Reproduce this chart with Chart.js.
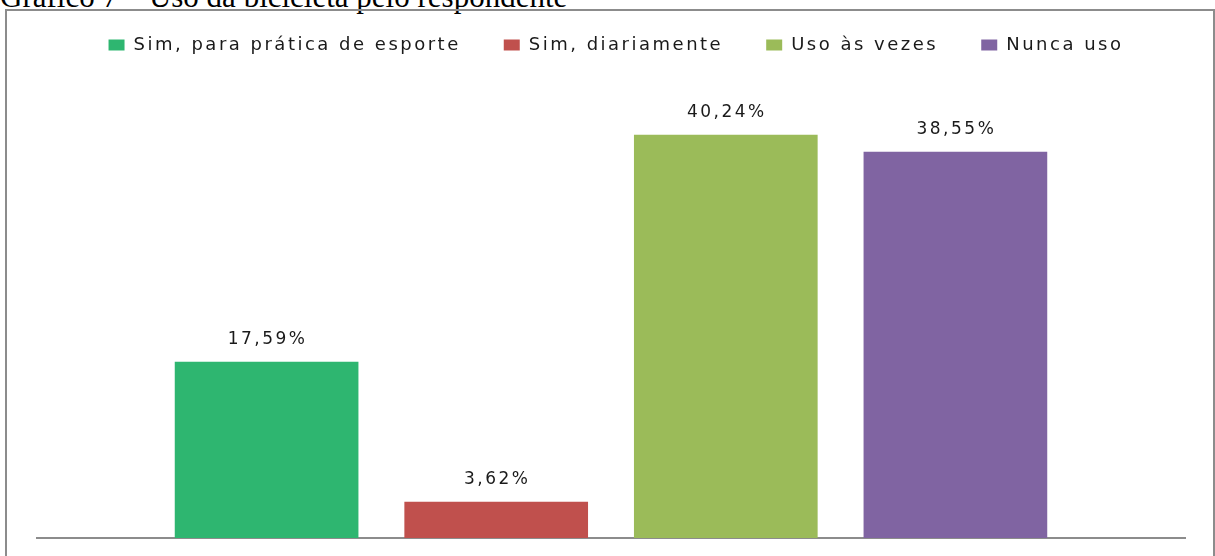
<!DOCTYPE html>
<html lang="pt">
<head>
<meta charset="utf-8">
<title>Uso da bicicleta pelo respondente</title>
<script src="https://cdn.jsdelivr.net/npm/chart.js@4/dist/chart.umd.min.js"></script>
<style>
  html, body { margin: 0; padding: 0; background: #fff; overflow: hidden; }
  body { width: 1215px; height: 556px; position: relative; }
  #titulo {
    position: absolute; left: 0px; top: -19px;
    font-family: "Liberation Serif", "Times New Roman", serif;
    font-size: 31px; line-height: 31px; color: #000; white-space: nowrap;
  }
  #moldura {
    position: absolute; left: 5px; top: 9px; width: 1206px; height: 600px;
    border: 2px solid #8c8c8c;
  }
  #grafico { position: absolute; left: 0; top: 0; }
</style>
</head>
<body>
<div id="titulo">Gráfico 7 – Uso da bicicleta pelo respondente</div>
<div id="moldura"></div>
<canvas id="grafico" width="1215" height="556"></canvas>
<script>
// dados
const categorias = ['Sim, para prática de esporte', 'Sim, diariamente', 'Uso às vezes', 'Nunca uso'];
const percentuais = [17.59, 3.62, 40.24, 38.55];
const cores = ['#2EB670', '#C0504D', '#9BBB59', '#8064A2'];

const fonte = 'DejaVu Sans';
const espacamento = '2.5px';

// o texto do original é bem espaçado, então aplica letterSpacing no contexto
const espacoLetras = {
    id: 'espacoLetras',
    beforeLayout(chart) { chart.ctx.letterSpacing = espacamento; },
    beforeDraw(chart) { chart.ctx.letterSpacing = espacamento; },
    // legenda do original fica um pouco mais à direita que o centro do gráfico
    afterLayout(chart) {
        chart.legend.left += 5;
        chart.legend.right += 5;
    }
};

// rótulos de porcentagem em cima de cada barra
const rotulos = {
    id: 'rotulos',
    afterDatasetsDraw(chart) {
        const ctx = chart.ctx;
        ctx.save();
        ctx.letterSpacing = espacamento;
        ctx.font = '17px "' + fonte + '"';
        ctx.fillStyle = '#1a1a1a';
        ctx.textAlign = 'center';
        ctx.textBaseline = 'middle';
        chart.data.datasets.forEach((ds, i) => {
            const barra = chart.getDatasetMeta(i).data[0];
            const texto = ds.data[0].toFixed(2).replace('.', ',') + '%';
            ctx.fillText(texto, barra.x + 1, barra.y - 22);
        });
        ctx.restore();
    }
};

const datasets = categorias.map((nome, i) => ({
    label: nome,
    data: [percentuais[i]],
    backgroundColor: cores[i],
    borderWidth: 0,
    barPercentage: 0.8,
    categoryPercentage: 0.8
}));

new Chart(document.getElementById('grafico'), {
    type: 'bar',
    data: { labels: [''], datasets: datasets },
    plugins: [espacoLetras, rotulos],
    options: {
        responsive: false,
        animation: false,
        layout: { padding: { top: -7, left: 37, right: 30, bottom: 18 } },
        scales: {
            x: {
                grid: { display: false, drawTicks: false },
                ticks: { display: false },
                border: { display: true, color: '#8c8c8c', width: 2 }
            },
            y: { display: false, min: 0, max: 47.3 }
        },
        plugins: {
            legend: {
                position: 'top',
                labels: {
                    boxWidth: 16,
                    boxHeight: 11,
                    padding: 43,
                    color: '#1a1a1a',
                    font: { family: fonte, size: 18 }
                }
            },
            tooltip: { enabled: false }
        }
    }
});
</script>
</body>
</html>
